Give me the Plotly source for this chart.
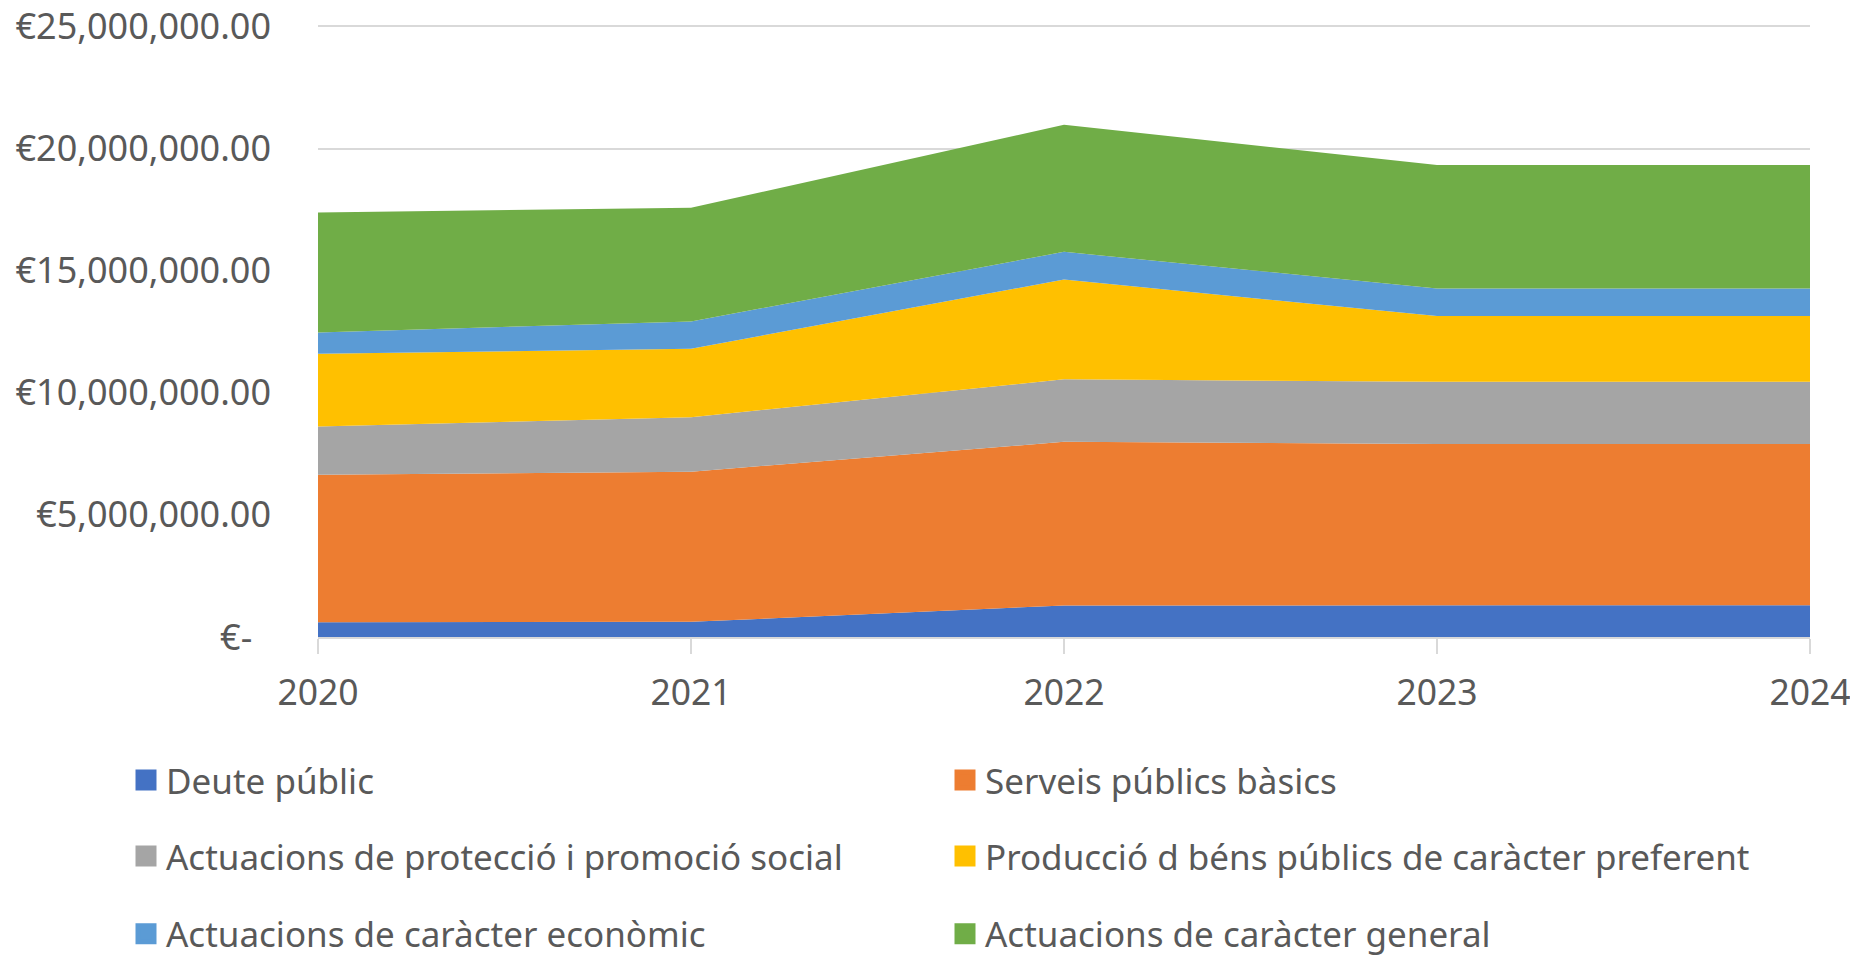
import plotly.graph_objects as go

years = [2020, 2021, 2022, 2023, 2024]

series_names = [
    "Deute públic",
    "Serveis públics bàsics",
    "Actuacions de protecció i promoció social",
    "Producció d béns públics de caràcter preferent",
    "Actuacions de caràcter econòmic",
    "Actuacions de caràcter general",
]

deute_public = [600000, 620000, 1290000, 1300000, 1300000]
serveis_publics = [6040000, 6150000, 6700000, 6600000, 6600000]
proteccio_social = [1980000, 2230000, 2560000, 2550000, 2550000]
produccio_bens = [2980000, 2800000, 4090000, 2690000, 2690000]
caracter_economic = [870000, 1120000, 1130000, 1130000, 1130000]
caracter_general = [4910000, 4660000, 5200000, 5060000, 5060000]

series_values = [deute_public, serveis_publics, proteccio_social,
                 produccio_bens, caracter_economic, caracter_general]

colors = ["#4472C4", "#ED7D31", "#A5A5A5", "#FFC000", "#5B9BD5", "#70AD47"]

y_tickvals = [0, 5000000, 10000000, 15000000, 20000000, 25000000]
y_ticktext = ["€-\u00a0\u00a0", "€5,000,000.00", "€10,000,000.00",
              "€15,000,000.00", "€20,000,000.00", "€25,000,000.00"]

FONT = "Noto Sans"
TXT = "#595959"
GRID = "#D9D9D9"

fig = go.Figure()

for name, vals, col in zip(series_names, series_values, colors):
    fig.add_trace(go.Scatter(
        x=years, y=vals, name=name, stackgroup="one", mode="lines",
        line=dict(width=0, color=col), fillcolor=col, showlegend=False,
        hoverinfo="x+y+name",
    ))

legend_ids = ["legend", "legend", "legend2", "legend2", "legend3", "legend3"]
for name, col, lid in zip(series_names, colors, legend_ids):
    fig.add_trace(go.Scatter(
        x=[None], y=[None], name=name, mode="markers",
        marker=dict(symbol="square", size=16, color=col,
                    line=dict(width=5, color=col)),
        legend=lid, showlegend=True,
    ))

# page has an 8px body margin; figure drawn in a 1850x948 box
W, H = 1850, 948
Y_TOP = 25100000
L, R = 310, 48
base_px = 629.5          # y pixel of value 0 (figure coords)
px_per_unit = (629.5 - 18) / 25000000
T = base_px - Y_TOP * px_per_unit
B = H - base_px
pw = W - L - R
ph = H - T - B


def py(pix):
    return (H - B - pix) / ph


legend_common = dict(
    orientation="h", xanchor="left", yanchor="middle", traceorder="normal",
    x=(118 - L) / pw, entrywidth=774, entrywidthmode="pixels",
    font=dict(family=FONT, size=35, color=TXT),
    bgcolor="rgba(0,0,0,0)", borderwidth=0,
)

fig.update_layout(
    width=W, height=H,
    margin=dict(l=L, r=R, t=T, b=B, autoexpand=False),
    paper_bgcolor="white", plot_bgcolor="white",
    font=dict(family=FONT, size=35, color=TXT),
    xaxis=dict(
        type="linear", range=[2020, 2024], tickvals=years,
        ticktext=[str(y) for y in years],
        showgrid=False, zeroline=False,
        showline=True, linecolor=GRID, linewidth=2,
        ticks="outside", ticklen=15, tickwidth=2, tickcolor=GRID,
        tickfont=dict(family=FONT, size=35.5, color=TXT),
        ticklabelstandoff=8, ticklabeloverflow="allow",
    ),
    yaxis=dict(
        range=[0, Y_TOP], tickvals=y_tickvals, ticktext=y_ticktext,
        showgrid=True, gridcolor=GRID, gridwidth=2,
        zeroline=False, showline=False, ticks="",
        tickfont=dict(family=FONT, size=36, color=TXT),
        ticklabelstandoff=46, ticklabeloverflow="allow",
    ),
    legend=dict(legend_common, y=py(773)),
    legend2=dict(legend_common, y=py(849)),
    legend3=dict(legend_common, y=py(927)),
    showlegend=True,
)

fig.write_html("out.html")
